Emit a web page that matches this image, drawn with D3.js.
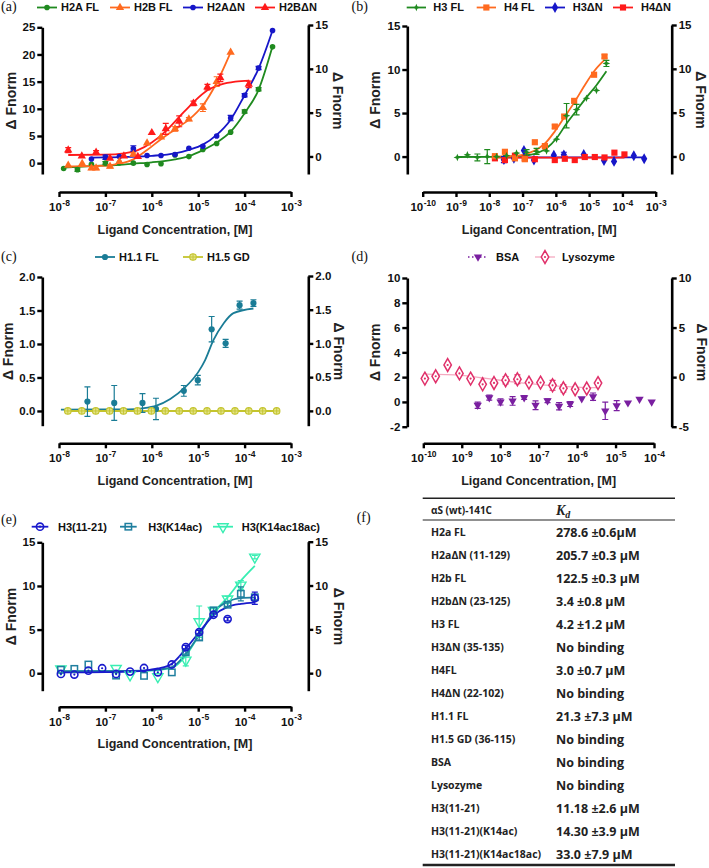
<!DOCTYPE html>
<html><head><meta charset="utf-8">
<script src="https://cdn.jsdelivr.net/npm/d3@7"></script>
<style>body{margin:0;background:#fff}svg{display:block}</style>
</head><body><svg id="c" width="709" height="868"></svg>
<script>
// ---------------- DATA ----------------
// Panel (a)
const xTicks8 = [1e-8,1e-7,1e-6,1e-5,1e-4,1e-3];
const xTickExp8 = ["-8","-7","-6","-5","-4","-3"];
const aLeftTicks = [0,5,10,15,20,25];
const aRightTicks = [0,5,10,15];
const aLegend = ["H2A FL","H2B FL","H2AΔN","H2BΔN"];

const aH2AFL = {x:[1.26e-8,2.5e-8,5e-8,1e-7,2e-7,4e-7,7.9e-7,1.58e-6,3.16e-6,6.3e-6,1.26e-5,2.5e-5,5e-5,1e-4,2e-4,4e-4],
  y:[-1.0,-1.2,-0.2,0.0,0.05,0.0,-0.25,-0.1,1.5,1.2,2.5,3.6,5.7,9.5,13.6,21.4],
  e:[0.1,0.3,0.2,0.3,0.2,0.1,0.1,0.2,0.1,0.1,0.2,0.2,0.2,0.3,0.3,0.2]};
const aH2AFLfit = [[1.26e-8,-0.8],[5e-8,-0.55],[2e-7,-0.3],[4e-7,-0.1],[1e-6,0.15],[3.16e-6,0.7],[6.3e-6,1.3],[1.26e-5,2.4],[2.5e-5,3.8],[5e-5,5.8],[1e-4,9.2],[2e-4,13.5],[4e-4,21.5]];
const aH2BFL = {x:[1.58e-8,3.16e-8,5e-8,6.3e-8,1.26e-7,2e-7,4e-7,7.9e-7,1.58e-6,3.16e-6,6.3e-6,1.26e-5,2.5e-5,5e-5],
  y:[-0.4,-0.1,-0.9,-0.9,-0.6,0.3,1.6,3.7,4.8,6.3,8.1,10.2,15.0,20.4],
  e:[0.2,0.2,0.3,0.3,0.3,0.2,0.3,0.2,0.2,0.4,0.3,0.7,0.9,0.2]};
const aH2BFLfit = [[1.58e-8,-0.6],[1e-7,-0.45],[2e-7,-0.1],[4e-7,0.7],[7.9e-7,2.4],[1.58e-6,4.4],[3.16e-6,6.2],[6.3e-6,8.0],[1.26e-5,10.6],[2.5e-5,14.8],[5e-5,20.4]];
const aH2AdN = {x:[5e-8,1e-7,2e-7,4e-7,7.9e-7,1.58e-6,3.16e-6,6.3e-6,1.26e-5,2.5e-5,5e-5,1e-4,2e-4,4e-4],
  y:[0.75,1.1,1.2,2.7,1.4,1.4,1.6,2.75,3.1,5.0,8.3,12.5,17.5,24.4],
  e:[0.2,0.4,0.2,0.5,0.1,0.1,0.1,0.2,0.2,0.2,0.5,0.3,0.3,0.2]};
const aH2AdNfit = [[5e-8,1.0],[1e-7,1.05],[3.16e-7,1.15],[1e-6,1.35],[3.16e-6,1.8],[6.3e-6,2.45],[1.26e-5,3.4],[2.5e-5,5.2],[5e-5,8.0],[1e-4,12.5],[2e-4,17.4],[4e-4,24.4]];
const aH2BdN = {x:[1.58e-8,3.1e-8,6.3e-8,1.26e-7,2.5e-7,5e-7,1e-6,2e-6,3.9e-6,7.9e-6,1.58e-5,3.0e-5,1.23e-4],
  y:[2.4,1.3,2.0,0.9,1.3,1.2,5.6,6.3,7.7,11.0,14.0,15.7,14.5],
  e:[0.45,0.25,0.3,0.2,0.2,0.2,0.2,1.0,1.0,0.4,0.5,0.7,0.6]};
const aH2BdNfit = [[1.58e-8,1.5],[1e-7,1.55],[2.5e-7,1.8],[5e-7,2.4],[1e-6,3.8],[2e-6,5.9],[4e-6,8.6],[7.9e-6,11.2],[1.58e-5,13.4],[3.16e-5,14.5],[6.3e-5,15.0],[1.26e-4,15.2]];

// Panel (b)
const xTicks10 = [1e-10,1e-9,1e-8,1e-7,1e-6,1e-5,1e-4,1e-3];
const xTickExp10 = ["-10","-9","-8","-7","-6","-5","-4","-3"];
const bTicks = [0,5,10,15];
const bLegend = ["H3 FL","H4 FL","H3ΔN","H4ΔN"];
const bH3FL = {x:[1.1e-9,2.2e-9,4.4e-9,8.7e-9,1.66e-8,3.3e-8,6.6e-8,1.32e-7,2.63e-7,5.25e-7,1.05e-6,2.1e-6,4.2e-6,8.3e-6,1.66e-5,3.3e-5],
  y:[-0.1,0.2,-0.1,0.0,0.0,0.1,0.4,0.5,0.6,0.65,2.0,4.7,5.4,6.7,7.6,10.7],
  e:[0.05,0.05,0.4,0.8,0.1,0.1,0.1,0.3,0.35,0.1,0.1,1.4,0.6,0.1,0.1,0.35]};
const bH3FLfit = [[1.1e-9,-0.05],[1e-8,-0.03],[3.16e-8,0.0],[1e-7,0.1],[1.66e-7,0.2],[3.16e-7,0.5],[5.25e-7,0.95],[1.05e-6,2.1],[2.1e-6,3.8],[4.2e-6,5.3],[8.3e-6,6.8],[1.66e-5,8.2],[3.3e-5,9.8]];
const bH4FL = {x:[1.48e-8,2.95e-8,5.9e-8,1.17e-7,2.34e-7,4.7e-7,9.3e-7,1.78e-6,3.55e-6,1.41e-5,2.9e-5],
  y:[0.05,0.55,-0.2,-0.3,1.65,1.2,3.45,4.6,6.4,9.4,11.5],
  e:[0.1,0.1,0.1,0.2,0.1,0.3,0.2,0.1,0.1,0.1,0.2]};
const bH4FLfit = [[1.48e-8,0.0],[5e-8,0.05],[1e-7,0.2],[1.66e-7,0.46],[3.16e-7,1.0],[4.7e-7,1.5],[9.3e-7,2.9],[1.86e-6,4.6],[3.55e-6,6.2],[7.4e-6,8.2],[1.41e-5,9.8],[2.9e-5,11.1]];
const bH3dN = {x:[2.75e-8,5.5e-8,1.1e-7,2.2e-7,8.7e-7,1.74e-6,6.9e-6,2.8e-5,5.6e-5,2.2e-4,4.5e-4],
  y:[-0.35,-0.2,0.7,-0.4,0.15,0.2,0.25,-0.45,-0.55,0.1,-0.25],
  e:[0.35,0.1,0.1,0.1,0.1,0.3,0.1,0.1,0.1,0.1,0.1]};
const bH3dNfit = [[2.75e-8,-0.08],[4.5e-4,-0.08]];
const bH4dN = {x:[1.48e-8,2.95e-8,5.9e-8,1.17e-7,2.34e-7,9.3e-7,1.86e-6,3.7e-6,7.4e-6,1.48e-5,2.9e-5,5.75e-5,1.15e-4],
  y:[-0.2,-0.4,0.1,-0.2,-0.3,-0.4,-0.25,-0.4,-0.05,-0.05,-0.1,0.45,0.25],
  e:[0.1,0.1,0.1,0.1,0.1,0.1,0.1,0.1,0.1,0.1,0.1,0.1,0.1]};
const bH4dNfit = [[1.48e-8,-0.12],[1.15e-4,-0.12]];

// Panel (c)
const cTicks = [0,0.5,1.0,1.5,2.0];
const cLegend = ["H1.1 FL","H1.5 GD"];
const cH11 = {x:[4.1e-8,1.55e-7,6.3e-7,1.23e-6,4.9e-6,9.8e-6,1.95e-5,3.9e-5,7.8e-5,1.55e-4],
  y:[0.14,0.12,0.12,0.03,0.3,0.46,1.22,1.01,1.58,1.61],
  e:[0.22,0.26,0.14,0.16,0.08,0.07,0.19,0.06,0.06,0.05]};
const cH11fit = [[1.1e-8,0.02],[3.16e-7,0.025],[6.3e-7,0.04],[1.26e-6,0.08],[2.5e-6,0.18],[5e-6,0.34],[1e-5,0.58],[1.41e-5,0.76],[2.14e-5,1.06],[3.55e-5,1.31],[5.75e-5,1.46],[1.55e-4,1.53]];
const cH15 = {x:[1.55e-8,3.1e-8,6.2e-8,1.23e-7,2.45e-7,4.9e-7,9.8e-7,1.95e-6,3.9e-6,7.8e-6,1.55e-5,3.1e-5,6.2e-5,1.23e-4,2.45e-4,4.9e-4],
  y:[0,0,0,0,0,0,0,0,0,0,0,0,0,0,0,0]};
const cH15fit = [[1.55e-8,0],[4.9e-4,0]];

// Panel (d)
const xTicksD = [1e-10,1e-9,1e-8,1e-7,1e-6,1e-5,1e-4];
const xTickExpD = ["-10","-9","-8","-7","-6","-5","-4"];
const dLeftTicks = [-2,0,2,4,6,8,10];
const dRightTicks = [-5,0,5,10];
const dLegend = ["BSA","Lysozyme"];
const dBSA = {x:[2.6e-9,5.2e-9,1.02e-8,2.1e-8,4.2e-8,8.3e-8,1.7e-7,3.4e-7,6.6e-7,1.32e-6,2.6e-6,5.4e-6,1.07e-5,2.1e-5,4.2e-5,8.7e-5],
  y:[-0.27,0.35,0.0,0.08,0.35,-0.27,0.1,-0.35,-0.17,0.27,0.42,-0.72,-0.3,-0.07,0.22,0.0],
  e:[0.25,0.2,0.25,0.35,0.15,0.35,0.15,0.3,0.2,0.05,0.3,0.7,0.4,0.05,0.05,0.05]};
const dLyso = {x:[1.1e-10,2.1e-10,4.3e-10,8.7e-10,1.7e-9,3.5e-9,6.9e-9,1.38e-8,2.8e-8,5.6e-8,1.12e-7,2.3e-7,4.4e-7,8.9e-7,1.78e-6,3.5e-6],
  y:[1.88,2.07,2.98,2.3,1.88,1.42,1.53,1.75,1.83,1.56,1.56,1.34,1.1,1.02,1.08,1.52],
  e:[0.05,0.05,0.05,0.05,0.05,0.05,0.05,0.3,0.35,0.05,0.05,0.4,0.3,0.05,0.05,0.05]};
const dLysofit = [[1.1e-10,2.25],[1e-9,2.15],[3.16e-9,1.95],[1e-8,1.75],[3.16e-8,1.55],[1e-7,1.4],[3.16e-7,1.28],[1e-6,1.2],[3.5e-6,1.16]];

// Panel (e)
const eTicks = [0,5,10,15];
const eLegend = ["H3(11-21)","H3(K14ac)","H3(K14ac18ac)"];
const eH3 = {x:[1.1e-8,2.14e-8,4.3e-8,8.5e-8,1.7e-7,3.4e-7,6.8e-7,1.35e-6,2.7e-6,5.4e-6,1.05e-5,2.14e-5,4.3e-5,1.66e-4],
  y:[-0.08,-0.15,0.3,0.57,-0.08,0.19,0.6,0.11,1.0,3.0,4.7,6.7,6.2,8.6],
  e:[0.1,0.1,0.1,0.1,0.1,0.1,0.1,0.1,0.1,0.2,0.2,0.2,0.2,0.7]};
const eH3fit = [[1.1e-8,0.1],[1e-7,0.12],[3.16e-7,0.2],[6.8e-7,0.3],[1.35e-6,0.55],[2.7e-6,1.1],[5.4e-6,2.8],[1.05e-5,4.7],[2.14e-5,6.6],[4.3e-5,7.6],[8.3e-5,7.95],[1.66e-4,8.1]];
const eK14 = {x:[1.1e-8,2.14e-8,4.3e-8,1.7e-7,6.8e-7,2.7e-6,5.4e-6,1.05e-5,2.14e-5,4.3e-5,8.3e-5,1.66e-4],
  y:[0.4,0.5,1.0,-0.27,-0.3,0.1,2.4,4.1,7.2,7.85,9.1,8.7],
  e:[0.1,0.1,0.1,0.1,0.1,0.1,0.2,0.3,0.3,0.2,0.8,0.3]};
const eK14fit = [[1.1e-8,0.25],[3.16e-7,0.26],[1e-6,0.35],[2.7e-6,0.7],[5.4e-6,2.2],[1.05e-5,4.4],[2.14e-5,7.0],[4.3e-5,8.2],[8.3e-5,8.6],[1.66e-4,8.7]];
const eK1418 = {x:[1.1e-8,1.7e-7,3.4e-7,1.35e-6,5.4e-6,1.05e-5,2.14e-5,4.3e-5,8.3e-5,1.66e-4],
  y:[0.5,0.55,-0.2,-0.4,1.5,5.9,7.2,8.5,10.1,13.3],
  e:[0.1,0.1,0.1,0.1,0.65,1.8,0.2,0.3,0.5,0.2]};
const eK1418fit = [[1.1e-8,0.2],[3.16e-7,0.22],[1e-6,0.3],[2.7e-6,0.6],[5.4e-6,2.0],[1.05e-5,4.4],[2.14e-5,6.9],[4.3e-5,8.7],[8.3e-5,10.6],[1.66e-4,12.3]];

// Table (f)
const fHeader = ["αS (wt)-141C","K","d"];
const fNames = ["H2a FL","H2aΔN (11-129)","H2b FL","H2bΔN (23-125)","H3 FL","H3ΔN (35-135)","H4FL","H4ΔN (22-102)","H1.1 FL","H1.5 GD (36-115)","BSA","Lysozyme","H3(11-21)","H3(11-21)(K14ac)","H3(11-21)(K14ac18ac)"];
const fKd = ["278.6 ±0.6μM","205.7 ±0.3 μM","122.5 ±0.3 μM","3.4 ±0.8 μM","4.2 ±1.2 μM","No binding","3.0 ±0.7 μM","No binding","21.3 ±7.3 μM","No binding","No binding","No binding","11.18 ±2.6 μM","14.30 ±3.9 μM","33.0 ±7.9 μM"];

// ---------------- DRAWING ----------------
const FONT = "'Liberation Sans', Arial, Helvetica, sans-serif";
const svg = d3.select('#c');

function styleAxis(g){
  g.select('.domain').attr('stroke','#000').attr('stroke-width',2.6);
  g.selectAll('.tick line').attr('stroke','#000').attr('stroke-width',2.4);
  g.selectAll('.tick text').attr('fill','#111').attr('font-family',FONT).attr('font-weight','bold').attr('font-size','11.5px');
}

function drawMarker(g, type, cx, cy, color){
  const t = `translate(${cx},${cy})`;
  if(type==='circle'){ g.append('circle').attr('cx',cx).attr('cy',cy).attr('r',2.8).attr('fill',color); }
  else if(type==='circleL'){ g.append('circle').attr('cx',cx).attr('cy',cy).attr('r',3.1).attr('fill',color); }
  else if(type==='triUp'){ g.append('path').attr('d',d3.symbol(d3.symbolTriangle,30)()).attr('transform',t).attr('fill',color); }
  else if(type==='triDown'){ g.append('path').attr('d',d3.symbol(d3.symbolTriangle,30)()).attr('transform',t+' rotate(180)').attr('fill',color); }
  else if(type==='square'){ g.append('path').attr('d',d3.symbol(d3.symbolSquare,38)()).attr('transform',t).attr('fill',color); }
  else if(type==='diamond'){ g.append('path').attr('d',d3.symbol(d3.symbolDiamond,34)()).attr('transform',t).attr('fill',color); }
  else if(type==='star4'){ g.append('path').attr('d','M0,-3.8L1.1,-1.1L3.8,0L1.1,1.1L0,3.8L-1.1,1.1L-3.8,0L-1.1,-1.1Z').attr('transform',t).attr('fill',color); }
  else if(type==='circPlus'){
    g.append('circle').attr('cx',cx).attr('cy',cy).attr('r',3.3).attr('fill','#e4e48a').attr('stroke',color).attr('stroke-width',1.1);
    g.append('path').attr('d',`M${cx-3.3},${cy}H${cx+3.3}M${cx},${cy-3.3}V${cy+3.3}`).attr('stroke',color).attr('stroke-width',0.9);
  }
  else if(type==='diamondDot'){
    g.append('path').attr('d',d3.symbol(d3.symbolDiamond,48)()).attr('transform',t).attr('fill','#fff').attr('stroke',color).attr('stroke-width',1.5);
    g.append('circle').attr('cx',cx).attr('cy',cy).attr('r',1.1).attr('fill',color);
  }
  else if(type==='circDot'){
    g.append('circle').attr('cx',cx).attr('cy',cy).attr('r',3.6).attr('fill','none').attr('stroke',color).attr('stroke-width',1.6);
    g.append('circle').attr('cx',cx).attr('cy',cy).attr('r',1.1).attr('fill',color);
  }
  else if(type==='squareOpen'){
    g.append('rect').attr('x',cx-3.2).attr('y',cy-3.2).attr('width',6.4).attr('height',6.4).attr('fill','none').attr('stroke',color).attr('stroke-width',1.5);
  }
  else if(type==='triDownOpen'){
    g.append('path').attr('d',d3.symbol(d3.symbolTriangle,46)()).attr('transform',t+' rotate(180)').attr('fill','none').attr('stroke',color).attr('stroke-width',1.4);
  }
}

function drawSeries(g, x, y, s, color, marker){
  if(s.e){
    s.x.forEach((cx,i)=>{
      const px = x(cx), y1 = y(s.y[i]-s.e[i]), y2 = y(s.y[i]+s.e[i]);
      if(Math.abs(y1-y2) < 2.2) return;
      g.append('path').attr('d',`M${px},${y1}V${y2}M${px-3},${y1}H${px+3}M${px-3},${y2}H${px+3}`)
        .attr('stroke',color).attr('stroke-width',1.2).attr('fill','none');
    });
  }
  s.x.forEach((cx,i)=>drawMarker(g, marker, x(cx), y(s.y[i]), color));
}

function drawFit(g, x, y, pts, color, width, dash){
  const line = d3.line().x(d=>x(d[0])).y(d=>y(d[1])).curve(d3.curveMonotoneX);
  g.append('path').attr('d',line(pts)).attr('fill','none').attr('stroke',color).attr('stroke-width',width||1.8)
    .attr('stroke-dasharray',dash||null);
}

function legend(items, cy){
  const g = svg.append('g');
  items.forEach(it=>{
    g.append('line').attr('x1',it.x0).attr('x2',it.x1).attr('y1',cy).attr('y2',cy)
      .attr('stroke',it.lineColor||it.color).attr('stroke-width',it.lw||1.8).attr('stroke-dasharray',it.dash||null);
    drawMarker(g, it.marker, (it.x0+it.x1)/2, cy, it.color);
    g.append('text').attr('x',it.tx).attr('y',cy).attr('dy','0.36em').attr('font-family',FONT)
      .attr('font-weight','bold').attr('font-size','11px').attr('fill','#111').text(it.label);
  });
}

function panelLabel(txt, x, y){
  svg.append('text').attr('x',x).attr('y',y).attr('font-family',"'Liberation Serif','Times New Roman',serif")
    .attr('font-size','14px').attr('fill','#111').text(txt);
}

function makePanel(p){
  const g = svg.append('g');
  const x = d3.scaleLog().domain(p.xDomain).range(p.xRange);
  const yL = d3.scaleLinear().domain(p.yLDomain).range(p.yLRange);
  const yR = d3.scaleLinear().domain(p.yRDomain).range(p.yRRange);
  const fmt = p.fmt || (d=>String(d));
  g.append('g').attr('transform',`translate(${p.leftX},0)`)
    .call(d3.axisLeft(yL).tickValues(p.yLTicks).tickSize(5).tickPadding(2).tickSizeOuter(0).tickFormat(fmt)).call(styleAxis);
  g.append('g').attr('transform',`translate(${p.rightX},0)`)
    .call(d3.axisRight(yR).tickValues(p.yRTicks).tickSize(5).tickPadding(2).tickSizeOuter(0).tickFormat(fmt)).call(styleAxis);
  const gx = g.append('g').attr('transform',`translate(0,${p.xAxisY})`)
    .call(d3.axisBottom(x).tickValues(p.xTicks).tickSize(5).tickSizeOuter(0).tickFormat(()=>'')).call(styleAxis);
  gx.selectAll('.tick text').each(function(d,i){
    const t = d3.select(this); t.text(null).attr('y',19).attr('dy',null);
    t.append('tspan').text('10');
    t.append('tspan').attr('dy','-5.5').attr('font-size','8.5px').attr('dx','0.5').text(p.xTickExp[i]);
  });
  // axis titles
  const cx = (p.xRange[0]+p.xRange[1])/2;
  g.append('text').attr('x',cx).attr('y',p.xAxisY+41.5).attr('text-anchor','middle').attr('font-family',FONT)
    .attr('font-weight','bold').attr('font-size','12.5px').attr('fill','#222').text('Ligand Concentration, [M]');
  const cyL = (p.yLRange[0]+p.yLRange[1])/2;
  g.append('text').attr('transform',`translate(${p.yLabelL},${cyL}) rotate(-90)`).attr('text-anchor','middle').attr('dy','0.35em')
    .attr('font-family',FONT).attr('font-weight','bold').attr('font-size','14px').attr('fill','#222').text('Δ Fnorm');
  g.append('text').attr('transform',`translate(${p.yLabelR},${cyL}) rotate(90)`).attr('text-anchor','middle').attr('dy','0.35em')
    .attr('font-family',FONT).attr('font-weight','bold').attr('font-size','14px').attr('fill','#222').text('Δ Fnorm');
  const gd = g.append('g');
  p.fits.forEach(f=>drawFit(gd, x, yL, f.pts, f.color, f.w, f.dash));
  p.series.forEach(s=>drawSeries(gd, x, yL, s.data, s.color, s.marker));
}

// colours
const cGreen='#1f8a1f', cOrange='#ff6a1f', cBlue='#1616c8', cRed='#ff1a1a';
const cTeal='#1a7c96', cYellow='#c4c42e', cPurple='#7a1fa0', cPink='#e0306a', cPinkLine='#f4a9c0';
const cBlueE='#1a1acc', cTealE='#1f7f9f', cMint='#38eeb2';

// ---- (a)
makePanel({xDomain:[1e-8,1e-3], xRange:[59,291], xTicks:xTicks8, xTickExp:xTickExp8, xAxisY:192,
  yLDomain:[-2,25], yLRange:[174,27.3], yLTicks:aLeftTicks, leftX:42.3,
  yRDomain:[-2,15], yRRange:[174,25], yRTicks:aRightTicks, rightX:308.3, yLabelL:11, yLabelR:338,
  fits:[{pts:aH2AFLfit,color:cGreen},{pts:aH2BFLfit,color:cOrange},{pts:aH2AdNfit,color:cBlue},{pts:aH2BdNfit,color:cRed}],
  series:[{data:aH2AFL,color:cGreen,marker:'circle'},{data:aH2AdN,color:cBlue,marker:'circle'},
          {data:aH2BFL,color:cOrange,marker:'triUp'},{data:aH2BdN,color:cRed,marker:'triUp'}]});
legend([{x0:37,x1:57,tx:61,label:aLegend[0],color:cGreen,marker:'circle'},
        {x0:110,x1:130,tx:134,label:aLegend[1],color:cOrange,marker:'triUp'},
        {x0:183,x1:203,tx:207,label:aLegend[2],color:cBlue,marker:'circle'},
        {x0:255,x1:275,tx:279,label:aLegend[3],color:cRed,marker:'triUp'}], 7.5);
panelLabel('(a)',1,11);

// ---- (b)
makePanel({xDomain:[1e-10,1e-3], xRange:[422.7,655.7], xTicks:xTicks10, xTickExp:xTickExp10, xAxisY:192,
  yLDomain:[-2,15], yLRange:[174,26], yLTicks:bTicks, leftX:407.3,
  yRDomain:[-2,15], yRRange:[174,25], yRTicks:bTicks, rightX:671.7, yLabelL:375, yLabelR:701,
  fits:[{pts:bH3dNfit,color:cBlue},{pts:bH4dNfit,color:cRed},{pts:bH3FLfit,color:cGreen},{pts:bH4FLfit,color:cOrange}],
  series:[{data:bH3dN,color:cBlue,marker:'diamond'},{data:bH4dN,color:cRed,marker:'square'},
          {data:bH4FL,color:cOrange,marker:'square'},{data:bH3FL,color:cGreen,marker:'star4'}]});
legend([{x0:406.7,x1:426,tx:433.3,label:bLegend[0],color:cGreen,marker:'star4'},
        {x0:476.7,x1:496,tx:504,label:bLegend[1],color:cOrange,marker:'square'},
        {x0:545,x1:565,tx:572.7,label:bLegend[2],color:cBlue,marker:'diamond'},
        {x0:613,x1:633,tx:641,label:bLegend[3],color:cRed,marker:'square'}], 7.5);
panelLabel('(b)',351.5,11);

// ---- (c)
makePanel({xDomain:[1e-8,1e-3], xRange:[59,291], xTicks:xTicks8, xTickExp:xTickExp8, xAxisY:443.3,
  yLDomain:[-0.22,2.0], yLRange:[425.7,277], yLTicks:cTicks, leftX:42.3,
  yRDomain:[-0.22,2.0], yRRange:[425.7,276], yRTicks:cTicks, rightX:308.3, yLabelL:8.5, yLabelR:339,
  fmt:d3.format('.1f'),
  fits:[{pts:cH11fit,color:cTeal},{pts:cH15fit,color:cYellow,w:2}],
  series:[{data:cH11,color:cTeal,marker:'circleL'},{data:cH15,color:cYellow,marker:'circPlus'}]});
legend([{x0:95,x1:115,tx:119,label:cLegend[0],color:cTeal,marker:'circleL'},
        {x0:183,x1:203,tx:207,label:cLegend[1],color:cYellow,marker:'circPlus'}], 257);
panelLabel('(c)',1,261);

// ---- (d)
makePanel({xDomain:[1e-10,1e-4], xRange:[423.3,654], xTicks:xTicksD, xTickExp:xTickExpD, xAxisY:443.3,
  yLDomain:[-2,10], yLRange:[426.7,278], yLTicks:dLeftTicks, leftX:407.3,
  yRDomain:[-5,10], yRRange:[426.7,278], yRTicks:dRightTicks, rightX:671.7, yLabelL:375, yLabelR:702,
  fits:[{pts:dLysofit,color:cPinkLine,w:1.3}],
  series:[{data:dBSA,color:cPurple,marker:'triDown'},{data:dLyso,color:cPink,marker:'diamondDot'}]});
legend([{x0:468,x1:488,tx:496,label:dLegend[0],color:cPurple,marker:'triDown',dash:'1.5,2.5',lw:1.4},
        {x0:535,x1:555,tx:562,label:dLegend[1],color:cPink,lineColor:cPinkLine,marker:'diamondDot',lw:1.3}], 257);
panelLabel('(d)',351.5,261);

// ---- (e)
makePanel({xDomain:[1e-8,1e-3], xRange:[59,291], xTicks:xTicks8, xTickExp:xTickExp8, xAxisY:706.7,
  yLDomain:[-2,15], yLRange:[690.7,542.3], yLTicks:eTicks, leftX:42.3,
  yRDomain:[-2,15], yRRange:[690.7,541.7], yRTicks:eTicks, rightX:308.3, yLabelL:11, yLabelR:339,
  fits:[{pts:eK1418fit,color:cMint},{pts:eK14fit,color:cTealE},{pts:eH3fit,color:cBlueE}],
  series:[{data:eK1418,color:cMint,marker:'triDownOpen'},{data:eK14,color:cTealE,marker:'squareOpen'},{data:eH3,color:cBlueE,marker:'circDot'}]});
legend([{x0:31.7,x1:48.3,tx:58,label:eLegend[0],color:cBlueE,marker:'circDot'},
        {x0:120,x1:136.7,tx:148.3,label:eLegend[1],color:cTealE,marker:'squareOpen'},
        {x0:213,x1:233,tx:241.7,label:eLegend[2],color:cMint,marker:'triDownOpen'}], 526.7);
panelLabel('(e)',1,524);

// ---- (f) table
(function(){
  const g = svg.append('g');
  const TF = "'Open Sans', 'Noto Sans', sans-serif";
  const x0 = 422.7, x1 = 675, c1 = 431, c2 = 556;
  g.append('line').attr('x1',x0).attr('x2',x1).attr('y1',498.3).attr('y2',498.3).attr('stroke','#222').attr('stroke-width',1.6);
  g.append('line').attr('x1',x0).attr('x2',x1).attr('y1',520).attr('y2',520).attr('stroke','#222').attr('stroke-width',1.2);
  g.append('line').attr('x1',x0).attr('x2',x1).attr('y1',865).attr('y2',865).attr('stroke','#222').attr('stroke-width',2.6);
  g.append('text').attr('x',c1).attr('y',510).attr('dy','0.35em').attr('font-family',TF).attr('font-weight','bold')
    .attr('font-size','10px').attr('fill','#222').text(fHeader[0]);
  const kd = g.append('text').attr('x',c2).attr('y',510).attr('dy','0.35em').attr('font-family',"'Liberation Serif',serif")
    .attr('font-style','italic').attr('font-weight','bold').attr('font-size','14px').attr('fill','#222');
  kd.append('tspan').text(fHeader[1]);
  kd.append('tspan').attr('dy','3').attr('font-size','10px').text(fHeader[2]);
  const rowY = d3.scaleLinear().domain([0, fNames.length-1]).range([532.7, 854.3]);
  fNames.forEach((n,i)=>{
    g.append('text').attr('x',c1).attr('y',rowY(i)).attr('dy','0.35em').attr('font-family',TF).attr('font-weight','bold')
      .attr('font-size','10.5px').attr('fill','#222').text(n);
    g.append('text').attr('x',c2).attr('y',rowY(i)).attr('dy','0.35em').attr('font-family',TF).attr('font-weight','bold')
      .attr('font-size','12.5px').attr('fill','#222').text(fKd[i]);
  });
  panelLabel('(f)',356.7,522);
})();
</script></body></html>
